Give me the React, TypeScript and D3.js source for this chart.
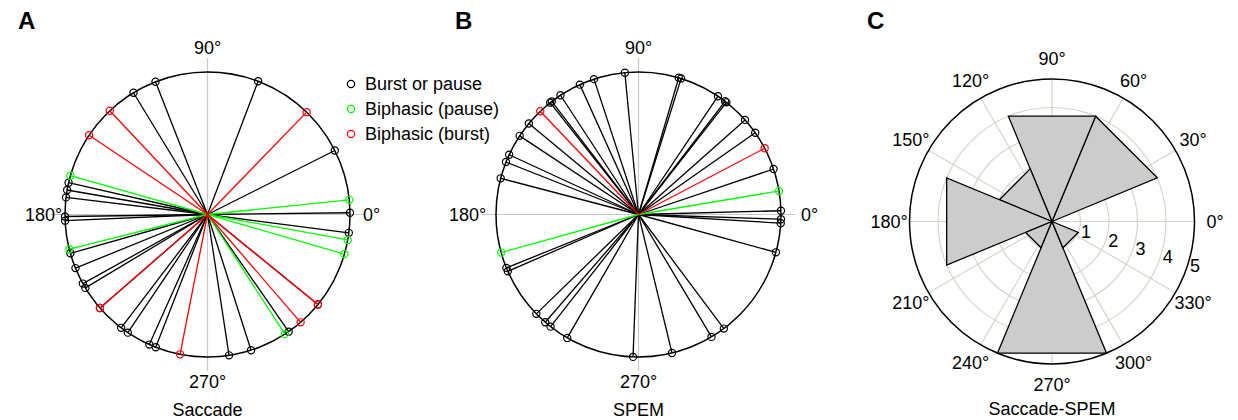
import React from "react";
import { scaleLinear, pointRadial, line } from "d3";

const width = 1238;
const height = 420;
const R = 142.5;
const font = "'Liberation Sans', Arial, sans-serif";

// preferred directions (deg, counter-clockwise from 0°)
const saccadeBurstOrPause = [
  0.7, 26.7, 69.2, 111.4, 121.3, 167.1, 170.1, 173.1, 180.8, 182.5, 195.8, 202.1,
  209, 211, 221, 232.7, 236, 245.9, 248.7, 278.7, 287.8, 304.7, 320.8, 352.6,
];
const saccadeBiphasicPause = [5.9, 164.2, 194.1, 302.9, 343.9, 349.7];
const saccadeBiphasicBurst = [45.9, 133.3, 146.2, 221, 258.9, 310.8, 320.8];

const spemBurstOrPause = [
  1.5, 18.6, 35, 41.6, 51.9, 52.6, 56.1, 72.6, 73.6, 95.5, 108.2, 114.3, 123.2,
  127.5, 128.3, 140.3, 146.5, 155.2, 158.4, 165.3, 202, 203.5, 224.2, 229.1,
  231.9, 240, 267.8, 283.6, 300.8, 306.8, 344.6, 356.5, 358.1,
];
const spemBiphasicPause = [9.5, 195.5];
const spemBiphasicBurst = [27.7, 133.6];

const polarTicks = [0, 90, 180, 270];

// rose of Saccade-SPEM differences
const roseCenters = [0, 45, 90, 135, 180, 225, 270, 315];
const roseCounts = [0, 4, 4, 2, 4, 1, 5, 1];
const roseBinWidth = 45;
const roseAngleTicks = [0, 30, 60, 90, 120, 150, 180, 210, 240, 270, 300, 330];
const roseRadiusTicks = [1, 2, 3, 4, 5];

const legendItems = ["Burst or pause", "Biphasic (pause)", "Biphasic (burst)"];
const typeColors = ["#000000", "#00ff00", "#ff0000"];

// degrees (ccw from east) -> d3 radial angle (cw from north)
const angle = scaleLinear().domain([0, 360]).range([Math.PI / 2, Math.PI / 2 - 2 * Math.PI]);
const pt = (deg: number, r: number) => pointRadial(angle(deg), r);

const DirectionPlot = ({ cx, cy, groups, title, labelOffset }) => {
  const axisExt = R + 14;
  return (
    <g transform={`translate(${cx},${cy})`}>
      <line x1={-axisExt} x2={axisExt} y1={0} y2={0} stroke="#c8c8c8" strokeWidth={1.2} />
      <line x1={0} x2={0} y1={-axisExt} y2={axisExt} stroke="#c8c8c8" strokeWidth={1.2} />
      <circle r={R} fill="none" stroke="#000" strokeWidth={1.5} />
      {groups.map((g, gi) => (
        <g key={gi}>
          {g.values.map((d, i) => {
            const [x, y] = pt(d, R);
            return (
              <g key={i}>
                <line x1={0} y1={0} x2={x} y2={y} stroke={g.color} strokeWidth={1.3} />
                <circle cx={x} cy={y} r={3.6} fill="none" stroke={g.color} strokeWidth={1.2} />
              </g>
            );
          })}
        </g>
      ))}
      {polarTicks.map((t) => {
        const [x, y] = pt(t, t % 180 === 0 ? labelOffset : 167);
        return (
          <text key={t} x={x} y={y} dy=".35em" textAnchor="middle" fontSize={18} fontFamily={font}>
            {t}°
          </text>
        );
      })}
      <text x={0} y={195} dy=".35em" textAnchor="middle" fontSize={18} fontFamily={font}>
        {title}
      </text>
    </g>
  );
};

const RosePlot = ({ cx, cy }) => {
  const rScale = scaleLinear().domain([0, 5]).range([0, R]);
  const wedge = line();
  return (
    <g transform={`translate(${cx},${cy})`}>
      {roseAngleTicks.map((t) => {
        const [x, y] = pt(t, R);
        return <line key={t} x1={0} y1={0} x2={x} y2={y} stroke="#d8d4cc" strokeWidth={1.2} />;
      })}
      {roseRadiusTicks.slice(0, -1).map((v) => (
        <circle key={v} r={rScale(v)} fill="none" stroke="#d8d4cc" strokeWidth={1.2} />
      ))}
      {roseCenters.map((c, i) => {
        const r = rScale(roseCounts[i]);
        if (r === 0) return null;
        const pts = [[0, 0], pt(c - roseBinWidth / 2, r), pt(c + roseBinWidth / 2, r), [0, 0]];
        return (
          <path key={c} d={wedge(pts)} fill="#cccccc" stroke="#000" strokeWidth={1.3} strokeLinejoin="miter" />
        );
      })}
      <circle r={R} fill="none" stroke="#000" strokeWidth={1.5} />
      {roseAngleTicks.map((t) => {
        const [x, y] = pt(t, 163);
        return (
          <text key={t} x={x} y={y} dy=".35em" textAnchor="middle" fontSize={18} fontFamily={font}>
            {t}°
          </text>
        );
      })}
      {roseRadiusTicks.map((v) => {
        const [x, y] = pt(-17, rScale(v) + 7);
        return (
          <text key={v} x={x} y={y} dy=".35em" textAnchor="middle" fontSize={18} fontFamily={font}>
            {v}
          </text>
        );
      })}
      <text x={0} y={187} dy=".35em" textAnchor="middle" fontSize={18} fontFamily={font}>
        Saccade-SPEM
      </text>
    </g>
  );
};

export default function App() {
  const saccadeGroups = [
    { values: saccadeBurstOrPause, color: typeColors[0] },
    { values: saccadeBiphasicPause, color: typeColors[1] },
    { values: saccadeBiphasicBurst, color: typeColors[2] },
  ];
  const spemGroups = [
    { values: spemBurstOrPause, color: typeColors[0] },
    { values: spemBiphasicPause, color: typeColors[1] },
    { values: spemBiphasicBurst, color: typeColors[2] },
  ];
  return (
    <svg width={width} height={height} style={{ position: "absolute", left: 0, top: 0, background: "#fff" }}>
      <text x={18} y={29} fontSize={24} fontWeight="bold" fontFamily={font}>A</text>
      <text x={455} y={29} fontSize={24} fontWeight="bold" fontFamily={font}>B</text>
      <text x={867} y={29} fontSize={24} fontWeight="bold" fontFamily={font}>C</text>
      <DirectionPlot cx={207.5} cy={214.5} groups={saccadeGroups} title="Saccade" labelOffset={164} />
      <DirectionPlot cx={638.5} cy={214.5} groups={spemGroups} title="SPEM" labelOffset={171} />
      <RosePlot cx={1052} cy={221.5} />
      <g>
        {legendItems.map((d, i) => (
          <g key={d} transform={`translate(351,${84 + i * 25})`}>
            <circle r={3.6} fill="none" stroke={typeColors[i]} strokeWidth={1.2} />
            <text x={14} dy=".35em" fontSize={18} fontFamily={font}>{d}</text>
          </g>
        ))}
      </g>
    </svg>
  );
}
